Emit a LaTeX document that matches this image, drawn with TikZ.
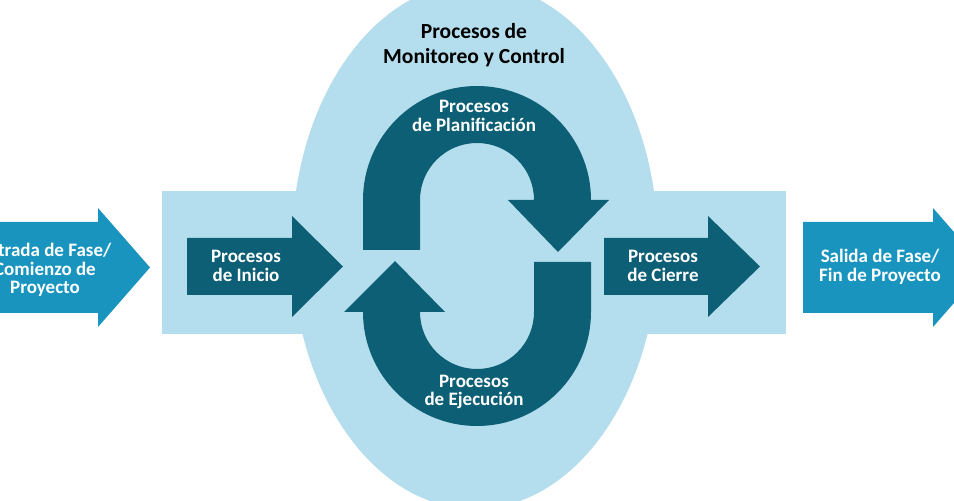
\documentclass[tikz,border=0pt]{standalone}
\usepackage{fontspec}
\setmainfont{Carlito}
\definecolor{lightbg}{HTML}{B4DEED}
\definecolor{darkteal}{HTML}{0D5F75}
\definecolor{midblue}{HTML}{1894BE}
\tikzset{
  lbl/.style={text=white, font=\fontsize{19}{18.5}\selectfont\bfseries, align=center, inner sep=0pt},
  title/.style={text=black, font=\fontsize{21.5}{25}\selectfont\bfseries, align=center, inner sep=0pt},
}
\begin{document}
\begin{tikzpicture}[x=1pt,y=1pt]
\useasboundingbox (0,0) rectangle (954,501);
\clip (0,0) rectangle (954,501);
% background shapes
\fill[lightbg] (475,255) ellipse [x radius=183, y radius=263];
\fill[lightbg] (162,167) rectangle (786,310);
% outer arrows
\fill[midblue] (-10,188) -- (98,188) -- (98,174) -- (150,233.5) -- (98,293) -- (98,279) -- (-10,279) -- cycle;
\fill[midblue] (803,188) -- (933,188) -- (933,174) -- (985,233.5) -- (933,293) -- (933,279) -- (803,279) -- cycle;
% inner arrows
\fill[darkteal] (187,206) -- (292,206) -- (292,184) -- (343,234.5) -- (292,285) -- (292,263) -- (187,263) -- cycle;
\fill[darkteal] (604,206) -- (708,206) -- (708,184) -- (760,234.5) -- (708,285) -- (708,263) -- (604,263) -- cycle;
% upper arch (Planificacion)
\fill[darkteal] (363,251) -- (363,301) arc[start angle=180, end angle=0, radius=114]
  -- (609,301) -- (558,249) -- (508,301) -- (534,301)
  arc[start angle=0, end angle=180, radius=57] -- (420,251) -- cycle;
% lower arch (Ejecucion)
\fill[darkteal] (591,239) -- (591,189) arc[start angle=0, end angle=-180, radius=114]
  -- (344,189) -- (395,240) -- (445,189) -- (420,189)
  arc[start angle=180, end angle=360, radius=57] -- (534,239) -- cycle;
% texts
\node[title] (mc) at (474,456) {Procesos de\\Monitoreo y Control};
\node[lbl] (plan) at (474,385) {Procesos\\de Planificación};
\node[lbl] (ejec) at (474,109) {Procesos\\de Ejecución};
\node[lbl] (ini) at (246,235) {Procesos\\de Inicio};
\node[lbl] (cie) at (663,235) {Procesos\\de Cierre};
\node[lbl] (ent) at (45,231) {Entrada de Fase/\\Comienzo de\\Proyecto};
\node[lbl] (sal) at (880,234) {Salida de Fase/\\Fin de Proyecto};
\end{tikzpicture}
\end{document}
